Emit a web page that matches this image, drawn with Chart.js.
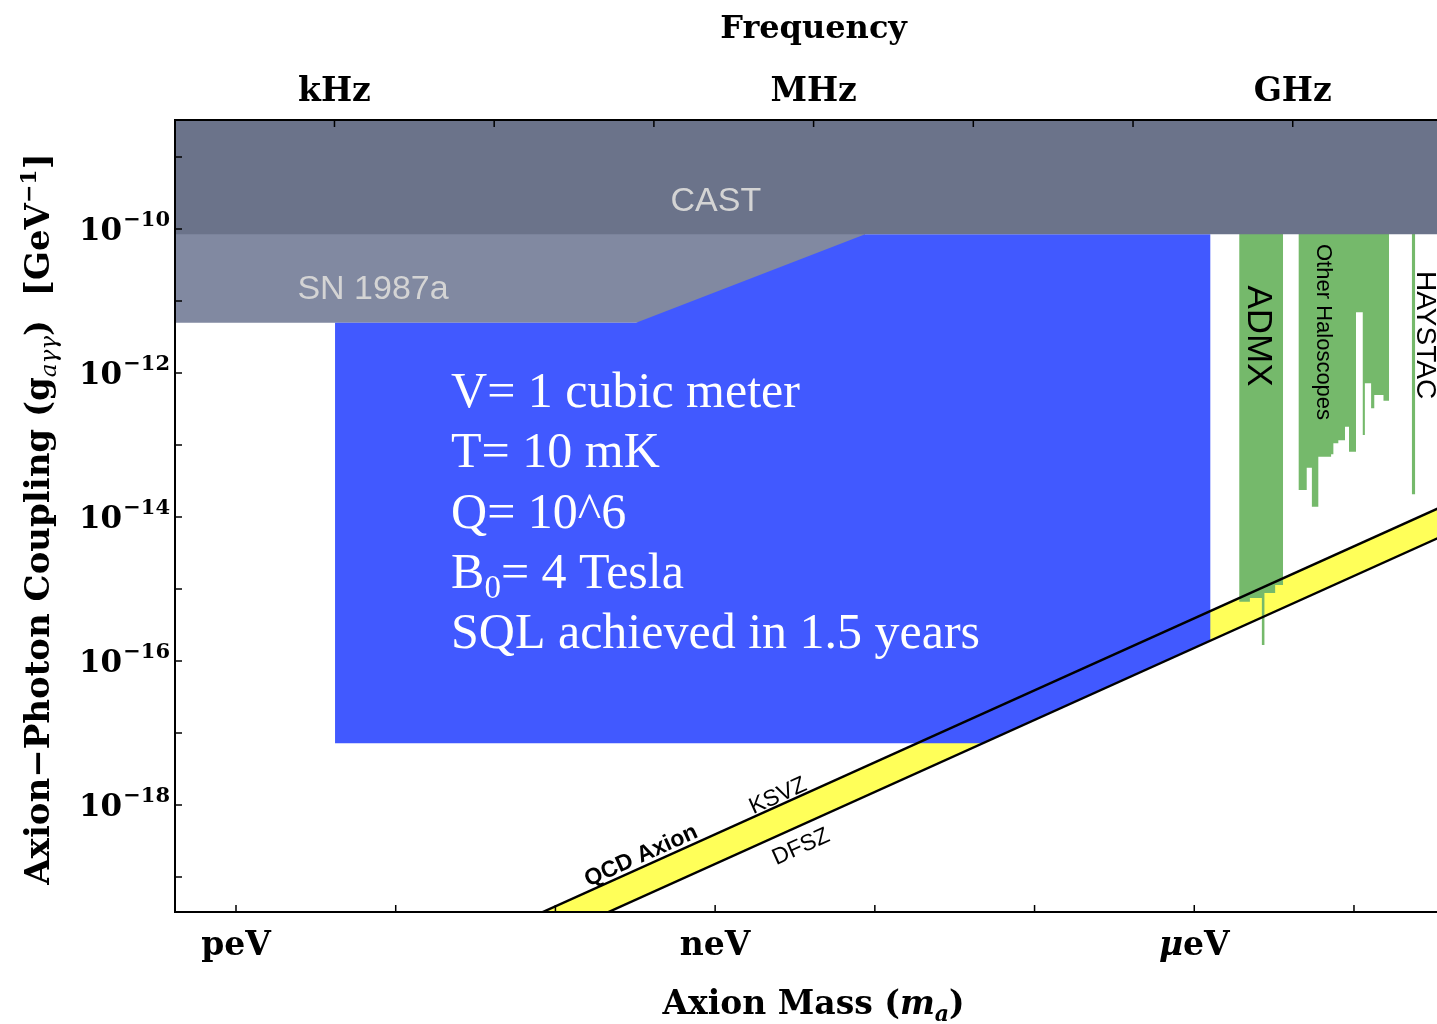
<!DOCTYPE html>
<html>
<head>
<meta charset="utf-8">
<title>Axion-photon coupling reach</title>
<script src="https://cdn.jsdelivr.net/npm/chart.js@4.4.1/dist/chart.umd.min.js"></script>
<style>
  html, body { margin: 0; padding: 0; background: #ffffff; }
  #wrap { width: 1437px; height: 1024px; }
</style>
</head>
<body>
<div id="wrap"><canvas id="plot" width="1437" height="1024"></canvas></div>
<script>
// ---- axis ranges (mass in eV, coupling in GeV^-1) ----
const MASS_MIN = 4.15e-13, MASS_MAX = 3.31e-5;
const G_MIN = 3.27e-20, G_MAX = 3.27e-9;
const H_EV_S = 4.1357e-15;                 // Planck constant, eV·s (mass -> frequency)

// ---- ticks ----
const massTicks      = [1e-12, 1e-11, 1e-10, 1e-9, 1e-8, 1e-7, 1e-6, 1e-5];
const massTickNames  = ['peV', '', '', 'neV', '', '', 'μeV', ''];
const freqTicks      = [1e3, 1e4, 1e5, 1e6, 1e7, 1e8, 1e9];
const freqTickNames  = ['kHz', '', '', 'MHz', '', '', 'GHz'];
const couplingTicks  = [1e-19, 1e-18, 1e-17, 1e-16, 1e-15, 1e-14, 1e-13, 1e-12, 1e-11, 1e-10, 1e-9];
const couplingTickExp = ['', '−18', '', '−16', '', '−14', '', '−12', '', '−10', ''];

// ---- excluded regions ----
const castMass = [MASS_MIN, MASS_MAX];
const castLimit = [8.5e-11, 8.5e-11];
const snMass = [MASS_MIN, 8.7e-9];
const snLimit = [5.0e-12, 5.0e-12];

// ---- projected reach (V = 1 m^3, T = 10 mK, Q = 1e6, B0 = 4 T) ----
const reachMass     = [4.17e-12, 3.2e-10, 8.7e-9, 1.26e-6, 1.26e-6, 4.76e-8, 4.17e-12];
const reachCoupling = [5.0e-12, 5.0e-12, 8.5e-11, 8.5e-11, 1.91e-16, 7.2e-18, 7.2e-18];

// ---- QCD axion band ----
const qcdMass  = [1e-11, 1e-4];
const ksvzLine = [3.92e-21, 3.92e-14];
const dfszLine = [1.52e-21, 1.52e-14];

// ---- haloscope exclusions (bin edges in eV, floor of each bin in GeV^-1) ----
const admxEdges  = [1.91e-6, 2.23e-6, 2.65e-6, 2.75e-6, 3.21e-6, 3.60e-6];
const admxFloor  = [6.67e-16, 7.50e-16, 1.67e-16, 8.79e-16, 1.14e-15];
const otherEdges = [4.49e-6, 5.06e-6, 5.45e-6, 5.98e-6, 7.19e-6, 7.43e-6, 7.98e-6, 8.79e-6,
                    9.31e-6, 1.03e-5, 1.135e-5, 1.17e-5, 1.28e-5, 1.34e-5, 1.53e-5, 1.66e-5];
const otherFloor = [2.37e-14, 4.84e-14, 1.39e-14, 6.87e-14, 7.43e-14, 1.06e-13, 1.17e-13, 1.79e-13,
                    8.07e-14, 6.97e-12, 1.38e-13, 7.19e-13, 3.24e-13, 4.94e-13, 4.12e-13];
const haystacEdges = [2.30e-5, 2.42e-5];
const haystacFloor = [2.07e-14];

// ---- label anchors [text, mass, coupling] ----
const regionLabels = [
  ['CAST', 1.01e-9, 2.37e-10],
  ['SN 1987a', 7.21e-12, 1.42e-11]
];
const infoLines = ['V= 1 cubic meter', 'T= 10 mK', 'Q= 10^6', 'B_0= 4 Tesla', 'SQL achieved in 1.5 years'];
const infoMass = 2.22e-11;
const infoCoupling = [5.81e-13, 8.53e-14, 1.21e-14, 1.78e-15, 2.61e-16];
const haloLabels = [
  ['ADMX', 2.17e-6, 3.27e-12, 35],
  ['Other Haloscopes', 5.87e-6, 3.71e-12, 22],
  ['HAYSTAC', 2.48e-5, 3.37e-12, 28]
];
const bandLabels = [
  ['QCD Axion', 3.44e-10, 1.96e-19, 'bold 23px "Liberation Sans"'],
  ['KSVZ', 2.48e-9, 1.33e-18, '23px "Liberation Sans"'],
  ['DFSZ', 3.45e-9, 2.61e-19, '23px "Liberation Sans"']
];

const COLORS = {
  cast: '#6b738a', sn: '#8189a1', reach: '#4159ff', green: '#75b96b',
  band: '#ffff59', line: '#000000', faint: '#d4d4d4'
};

const pairs = (xs, ys) => xs.map((x, i) => ({ x, y: ys[i] }));
function steps(edges, floors) {
  const pts = [];
  floors.forEach((f, i) => { pts.push({ x: edges[i], y: f }, { x: edges[i + 1], y: f }); });
  return pts;
}
const area = (data, color, fill, order) => ({
  data, fill, order, backgroundColor: color, borderWidth: 0, borderColor: color,
  pointRadius: 0, tension: 0
});

const datasets = [
  area(pairs(snMass, snLimit), COLORS.sn, 'end', 9),                 // 0
  area(pairs(qcdMass, ksvzLine), COLORS.band, 7, 8),                 // 1 band, filled to DFSZ (index 7)
  area(pairs(reachMass, reachCoupling), COLORS.reach, 'shape', 7),   // 2
  area(steps(admxEdges, admxFloor), COLORS.green, 'end', 6),         // 3
  area(steps(otherEdges, otherFloor), COLORS.green, 'end', 6),       // 4
  area(steps(haystacEdges, haystacFloor), COLORS.green, 'end', 6),   // 5
  area(pairs(castMass, castLimit), COLORS.cast, 'end', 5),           // 6
  { data: pairs(qcdMass, dfszLine), borderColor: COLORS.line, borderWidth: 2.4, fill: false, pointRadius: 0, order: 2 }, // 7
  { data: pairs(qcdMass, ksvzLine), borderColor: COLORS.line, borderWidth: 2.4, fill: false, pointRadius: 0, order: 2 }  // 8
];

// draws a run list [{t, font, dy}] starting at x, baseline y
function runsWidth(ctx, runs) {
  return runs.reduce((w, r) => { ctx.font = r.font; return w + ctx.measureText(r.t).width; }, 0);
}
function drawRuns(ctx, runs, x, y) {
  runs.forEach(r => { ctx.font = r.font; ctx.fillText(r.t, x, y + (r.dy || 0)); x += ctx.measureText(r.t).width; });
}

const SERIF_B = (s) => `bold ${s}px "DejaVu Serif"`;

const overlay = {
  id: 'overlay',
  afterDraw(chart) {
    const { ctx, chartArea: a, scales } = chart;
    const xs = scales.x, xf = scales.freq, ys = scales.y;
    ctx.save();

    // inward tick marks
    ctx.strokeStyle = '#000'; ctx.lineWidth = 1.5;
    ctx.beginPath();
    massTicks.forEach(v => { const p = xs.getPixelForValue(v); ctx.moveTo(p, a.bottom); ctx.lineTo(p, a.bottom - 7); });
    freqTicks.forEach(v => { const p = xf.getPixelForValue(v); ctx.moveTo(p, a.top); ctx.lineTo(p, a.top + 7); });
    couplingTicks.forEach(v => { const p = ys.getPixelForValue(v); ctx.moveTo(a.left, p); ctx.lineTo(a.left + 7, p); });
    ctx.stroke();

    ctx.fillStyle = '#000';
    ctx.textBaseline = 'alphabetic';

    // bottom mass tick labels
    massTicks.forEach((v, i) => {
      const name = massTickNames[i];
      if (!name) return;
      const p = xs.getPixelForValue(v);
      const runs = name.startsWith('μ')
        ? [{ t: 'μ', font: 'italic bold 33px "DejaVu Serif"' }, { t: name.slice(1), font: SERIF_B(33) }]
        : [{ t: name, font: SERIF_B(33) }];
      drawRuns(ctx, runs, p - runsWidth(ctx, runs) / 2, 955);
    });
    // top frequency tick labels
    ctx.textAlign = 'center';
    freqTicks.forEach((v, i) => {
      if (!freqTickNames[i]) return;
      ctx.font = SERIF_B(33);
      ctx.fillText(freqTickNames[i], xf.getPixelForValue(v), 101);
    });
    const midX = xf.getPixelForValue(1e6);
    ctx.font = SERIF_B(32);
    ctx.fillText('Frequency', midX, 38);
    ctx.textAlign = 'left';

    // left coupling tick labels
    couplingTicks.forEach((v, i) => {
      const e = couplingTickExp[i];
      if (!e) return;
      const p = ys.getPixelForValue(v);
      ctx.font = SERIF_B(21);
      const we = ctx.measureText(e).width;
      ctx.font = SERIF_B(31);
      const wb = ctx.measureText('10').width;
      const right = a.left - 5;
      ctx.fillText('10', right - we - wb - 1, p + 11);
      ctx.font = SERIF_B(21);
      ctx.fillText(e, right - we, p - 3);
    });

    // bottom axis title
    const xt = [
      { t: 'Axion Mass (', font: SERIF_B(33) },
      { t: 'm', font: 'italic bold 33px "DejaVu Serif"' },
      { t: 'a', font: 'italic bold 22px "DejaVu Serif"', dy: 7 },
      { t: ')', font: SERIF_B(33) }
    ];
    drawRuns(ctx, xt, midX - runsWidth(ctx, xt) / 2, 1014);

    // left axis title
    const yt = [
      { t: 'Axion−Photon Coupling (g', font: SERIF_B(34) },
      { t: 'aγγ', font: 'italic 23px "DejaVu Serif"', dy: 7 },
      { t: ')  [GeV', font: SERIF_B(34) },
      { t: '−1', font: SERIF_B(22), dy: -13 },
      { t: ']', font: SERIF_B(34) }
    ];
    ctx.save();
    ctx.translate(49, (a.top + a.bottom) / 2 + 3);
    ctx.rotate(-Math.PI / 2);
    drawRuns(ctx, yt, -runsWidth(ctx, yt) / 2, 0);
    ctx.restore();

    // region names on the grey bands
    ctx.fillStyle = COLORS.faint;
    ctx.textAlign = 'center'; ctx.textBaseline = 'middle';
    ctx.font = '34px "Liberation Sans"';
    regionLabels.forEach(([t, m, g]) => ctx.fillText(t, xs.getPixelForValue(m), ys.getPixelForValue(g)));

    // experiment parameters
    ctx.fillStyle = '#ffffff';
    ctx.textAlign = 'left'; ctx.textBaseline = 'alphabetic';
    const ix = xs.getPixelForValue(infoMass);
    infoLines.forEach((line, i) => {
      const y = ys.getPixelForValue(infoCoupling[i]) + 17;
      const runs = [];
      line.split(/(_.)/).forEach(part => {
        if (!part) return;
        if (part[0] === '_') runs.push({ t: part[1], font: '33px "Liberation Serif"', dy: 10 });
        else runs.push({ t: part, font: '50px "Liberation Serif"' });
      });
      drawRuns(ctx, runs, ix, y);
    });

    // haloscope names, read top to bottom
    ctx.fillStyle = '#000';
    ctx.textAlign = 'center'; ctx.textBaseline = 'alphabetic';
    haloLabels.forEach(([t, m, g, size]) => {
      ctx.save();
      ctx.translate(xs.getPixelForValue(m), ys.getPixelForValue(g));
      ctx.rotate(Math.PI / 2);
      ctx.font = `${size}px "Liberation Sans"`;
      ctx.fillText(t, 0, 0);
      ctx.restore();
    });

    // QCD band labels, aligned with the lines
    const ang = Math.atan2(ys.getPixelForValue(ksvzLine[1]) - ys.getPixelForValue(ksvzLine[0]),
                           xs.getPixelForValue(qcdMass[1]) - xs.getPixelForValue(qcdMass[0]));
    ctx.textBaseline = 'middle';
    bandLabels.forEach(([t, m, g, font]) => {
      ctx.save();
      ctx.translate(xs.getPixelForValue(m), ys.getPixelForValue(g));
      ctx.rotate(ang);
      ctx.font = font;
      ctx.fillText(t, 0, 0);
      ctx.restore();
    });
    ctx.restore();
  }
};

const hiddenAxis = (extra) => Object.assign({
  type: 'logarithmic',
  ticks: { display: false },
  grid: { display: false, drawTicks: false, tickLength: 0, z: 1 },
  border: { display: true, color: '#000', width: 2, z: 1 },
  title: { display: false }
}, extra);

new Chart(document.getElementById('plot'), {
  type: 'line',
  data: { datasets },
  options: {
    responsive: false,
    animation: false,
    events: [],
    layout: { padding: { left: 175, top: 120, right: 0, bottom: 112 } },
    plugins: { legend: { display: false }, tooltip: { enabled: false } },
    elements: { line: { borderJoinStyle: 'miter' } },
    scales: {
      x: hiddenAxis({ position: 'bottom', min: MASS_MIN, max: MASS_MAX }),
      freq: hiddenAxis({ position: 'top', axis: 'x', min: MASS_MIN / H_EV_S, max: MASS_MAX / H_EV_S }),
      y: hiddenAxis({ position: 'left', min: G_MIN, max: G_MAX })
    }
  },
  plugins: [overlay]
});
</script>
</body>
</html>
